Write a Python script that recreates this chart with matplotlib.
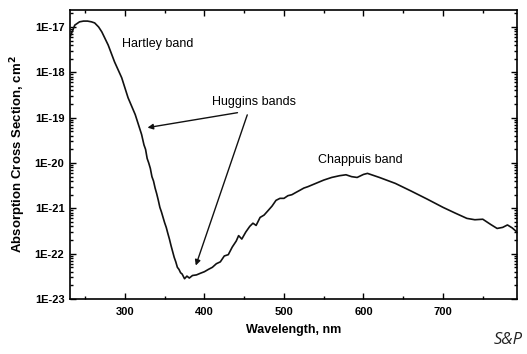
import matplotlib
matplotlib.use("Agg")
import matplotlib.pyplot as plt
import numpy as np
from matplotlib.ticker import LogLocator, MultipleLocator, NullFormatter, FixedLocator

# O3 absorption cross section
wavelength = [231, 237, 243, 248, 253, 258, 262, 267, 271, 279, 287, 296, 304, 313,
              321, 324, 326, 328, 330, 332, 334, 336, 338, 340, 342, 344, 346, 348,
              350, 352, 354, 356, 358, 360, 362, 364, 366, 368, 370, 372, 375, 378,
              381, 385, 390, 395, 400, 405, 410, 415, 420, 425, 430, 435, 440, 443,
              447, 452, 457, 461, 465, 470, 475, 480, 485, 490, 495, 500, 505, 510,
              515, 520, 525, 530, 540, 550, 560, 570, 578, 585, 592, 600, 605, 620,
              640, 660, 680, 700, 715, 730, 740, 750, 760, 768, 775, 781, 787, 793]
sigma = [6.0e-18, 1.1e-17, 1.3e-17, 1.35e-17, 1.35e-17, 1.3e-17, 1.23e-17, 1.0e-17,
         7.8e-18, 4.0e-18, 1.7e-18, 7.6e-19, 2.75e-19, 1.17e-19,
         4.27e-20, 2.51e-20, 2.0e-20, 1.26e-20, 1.0e-20, 7.6e-21, 5.0e-21, 4.0e-21,
         2.8e-21, 2.1e-21, 1.51e-21, 1.05e-21, 8.3e-22, 6.3e-22, 4.8e-22, 3.8e-22,
         2.8e-22, 2.1e-22, 1.51e-22, 1.12e-22, 8.3e-23, 6.6e-23, 5.0e-23, 4.5e-23,
         3.8e-23, 3.55e-23, 2.8e-23, 3.2e-23, 2.9e-23, 3.3e-23, 3.4e-23, 3.7e-23,
         4.0e-23, 4.5e-23, 5.0e-23, 6.0e-23, 6.6e-23, 8.9e-23, 9.5e-23, 1.4e-22,
         1.9e-22, 2.5e-22, 2.1e-22, 3.0e-22, 4.0e-22, 4.7e-22, 4.2e-22, 6.3e-22,
         7.1e-22, 8.9e-22, 1.12e-21, 1.5e-21, 1.66e-21, 1.66e-21, 1.9e-21, 2.0e-21,
         2.24e-21, 2.5e-21, 2.8e-21, 3.0e-21, 3.55e-21, 4.2e-21, 4.8e-21, 5.25e-21,
         5.5e-21, 5.0e-21, 4.8e-21, 5.6e-21, 5.9e-21, 4.8e-21, 3.55e-21, 2.4e-21,
         1.6e-21, 1.05e-21, 7.9e-22, 6.0e-22, 5.6e-22, 5.75e-22, 4.4e-22, 3.6e-22,
         3.8e-22, 4.3e-22, 3.7e-22, 3.0e-22]

xticks = [300, 400, 500, 600, 700]
yticks = [1e-23, 1e-22, 1e-21, 1e-20, 1e-19, 1e-18, 1e-17]
ytick_labels = ["1E-23", "1E-22", "1E-21", "1E-20", "1E-19", "1E-18", "1E-17"]

plt.rcParams["font.family"] = ["Liberation Sans", "DejaVu Sans"]

fig = plt.figure(figsize=(5.27, 3.54), dpi=100)
ax = fig.add_axes([70 / 527, 1 - 299 / 354, 447 / 527, 289 / 354])

ax.plot(wavelength, sigma, color="#111111", lw=1.2)
ax.set_yscale("log")
ax.set_xlim(231, 793)
ax.set_ylim(1e-23, 10 ** -16.625)

ax.xaxis.set_major_locator(FixedLocator(xticks))
ax.xaxis.set_minor_locator(MultipleLocator(50))
ax.yaxis.set_major_locator(FixedLocator(yticks))
ax.set_yticklabels(ytick_labels)
ax.yaxis.set_minor_locator(LogLocator(base=10, subs=np.arange(2, 10), numticks=20))
ax.yaxis.set_minor_formatter(NullFormatter())

ax.tick_params(which="both", direction="in", top=True, right=True, labelsize=8, width=1)
ax.tick_params(which="major", length=4)
ax.tick_params(axis="x", which="major", pad=6)
ax.tick_params(axis="y", which="major", pad=4)
ax.tick_params(which="minor", length=2)
for lab in ax.get_xticklabels() + ax.get_yticklabels():
    lab.set_fontweight("bold")
for sp in ax.spines.values():
    sp.set_linewidth(1.2)

ax.set_xlabel("Wavelength, nm", fontsize=9, fontweight="bold", labelpad=5)
ax.set_ylabel("Absorption Cross Section, cm$^\\mathbf{2}$", fontsize=9.5, fontweight="bold", labelpad=5)

ax.text(296, 10 ** -17.38, "Hartley band", fontsize=9, ha="left", va="center")
ax.text(596, 10 ** -19.94, "Chappuis band", fontsize=9, ha="center", va="center")
ax.text(409, 10 ** -18.65, "Huggins bands", fontsize=9, ha="left", va="center")
arrow = dict(arrowstyle="-|>", color="#111111", lw=1.0, mutation_scale=8)
ax.annotate("", xy=(325, 10 ** -19.23), xytext=(445, 10 ** -18.88), arrowprops=arrow)
ax.annotate("", xy=(388, 10 ** -22.32), xytext=(455, 10 ** -18.88), arrowprops=arrow)

fig.text(523 / 527, 1 - 340 / 354, "S&P", fontsize=12, style="italic",
         family=["Open Sans", "DejaVu Sans"], color="#222222", ha="right", va="center")

fig.savefig("out.png", dpi=100)
